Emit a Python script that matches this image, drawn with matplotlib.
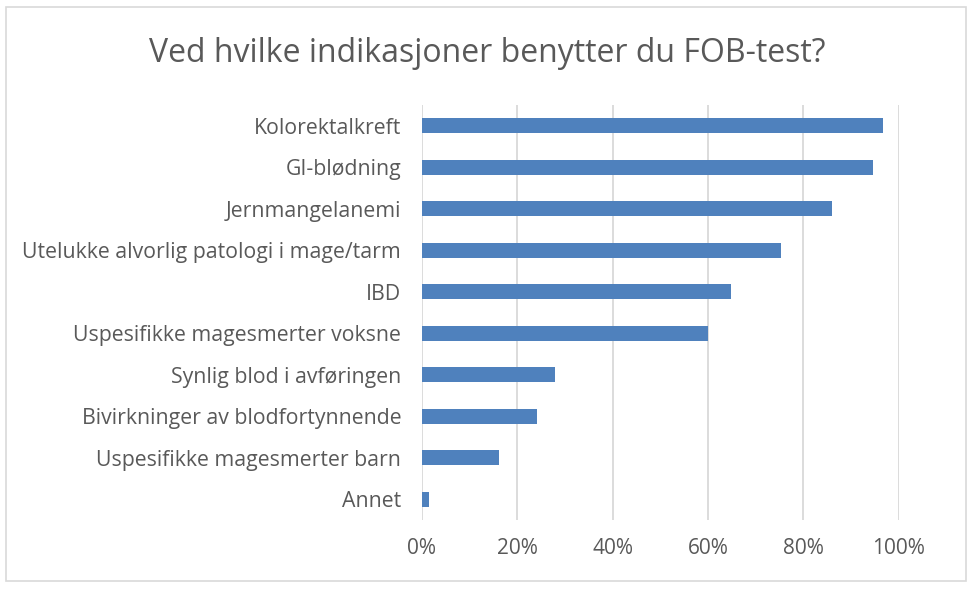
import matplotlib.pyplot as plt
from matplotlib.patches import Rectangle
from matplotlib.ticker import PercentFormatter

plt.rcParams['font.family'] = ['Open Sans', 'DejaVu Sans']

# data, top to bottom as in the chart
categories = ['Kolorektalkreft', 'GI-blødning', 'Jernmangelanemi',
              'Utelukke alvorlig patologi i mage/tarm', 'IBD',
              'Uspesifikke magesmerter voksne', 'Synlig blod i avføringen',
              'Bivirkninger av blodfortynnende', 'Uspesifikke magesmerter barn',
              'Annet']
values = [0.966, 0.947, 0.861, 0.752, 0.648, 0.600, 0.279, 0.241, 0.162, 0.015]
xticks = [0, 0.2, 0.4, 0.6, 0.8, 1.0]

txt = '#595959'
fig = plt.figure(figsize=(9.75, 5.92), dpi=100)
ax = fig.add_axes([0.4328, 0.1216, 0.4890, 0.7010])

pos = list(range(len(categories)))[::-1]
ax.barh(pos, values, height=0.36, color='#4F81BD', zorder=3)
ax.set_ylim(-0.5, len(categories) - 0.5)
ax.set_xlim(0, 1)
ax.set_yticks(pos)
ax.set_yticklabels(categories)
ax.set_xticks(xticks)
ax.xaxis.set_major_formatter(PercentFormatter(1, decimals=0))
ax.tick_params(axis='both', length=0, colors=txt)
ax.tick_params(axis='y', pad=15, labelsize=15.3)
ax.tick_params(axis='x', pad=13, labelsize=15)
ax.grid(axis='x', color='#D9D9D9', linewidth=1.3, zorder=0)
for s in ax.spines.values():
    s.set_visible(False)

fig.text(0.5, 0.91, 'Ved hvilke indikasjoner benytter du FOB-test?',
         ha='center', va='center', fontsize=23, color=txt)

# chart border
fig.patches.append(Rectangle((6 / 975, 11 / 592), 960 / 975, 574 / 592,
                             transform=fig.transFigure, fill=False,
                             edgecolor='#D9D9D9', linewidth=1.2))

fig.savefig('out.png', dpi=100)
